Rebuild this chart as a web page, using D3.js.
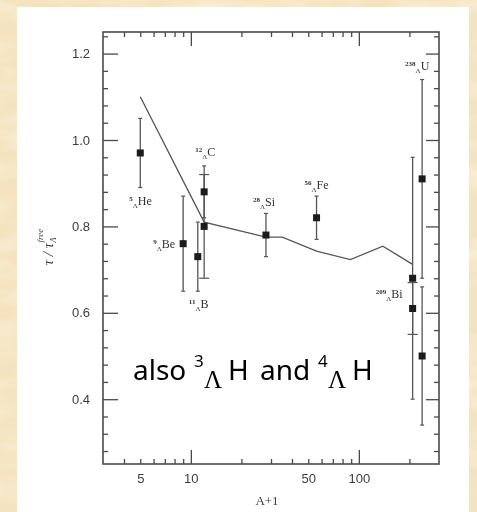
<!DOCTYPE html>
<html>
<head>
<meta charset="utf-8">
<script src="https://cdn.jsdelivr.net/npm/d3@7"></script>
<style>
  html, body { margin: 0; padding: 0; background: #f5e6c4; }
  svg { display: block; }
</style>
</head>
<body>
<svg id="chart" width="477" height="512"></svg>
<script>
// Hypernuclear lifetimes relative to the free Lambda lifetime
const massNumber = ["5", "9", "11", "12", "12", "28", "56", "209", "209", "238", "238"];
const element    = ["He", "Be", "B", "C", "C", "Si", "Fe", "Bi", "Bi", "U", "U"];
const xValue     = [5, 9, 11, 12, 12, 28, 56, 209, 209, 238, 238];
const ratio      = [0.97, 0.76, 0.73, 0.88, 0.80, 0.78, 0.82, 0.68, 0.61, 0.91, 0.50];
const errUp      = [0.08, 0.11, 0.08, 0.06, 0.12, 0.05, 0.05, 0.28, 0.06, 0.23, 0.16];
const errDown    = [0.08, 0.11, 0.08, 0.06, 0.12, 0.05, 0.05, 0.28, 0.06, 0.23, 0.16];
const wideCap    = [false, false, false, false, true, false, false, false, true, false, false];
const showLabel  = [true, true, true, true, false, true, true, true, false, true, false];

// Theoretical curve
const theoryX = [5, 12, 28, 35, 56, 89, 139, 209];
const theoryY = [1.10, 0.81, 0.775, 0.775, 0.743, 0.723, 0.754, 0.712];

// Axis ticks
const yMajorTicks = [0.4, 0.6, 0.8, 1.0, 1.2];
const yTickLabels = ["0.4", "0.6", "0.8", "1.0", "1.2"];
const yMinorTicks = [0.28, 0.32, 0.36, 0.44, 0.48, 0.52, 0.56, 0.64, 0.68, 0.72, 0.76,
                     0.84, 0.88, 0.92, 0.96, 1.04, 1.08, 1.12, 1.16, 1.24];
const xMajorTicks = [10, 100];
const xMinorTicks = [4, 5, 6, 7, 8, 9, 20, 30, 40, 50, 60, 70, 80, 90, 200];
const xLabelTicks = [5, 10, 50, 100];
const xTickLabels = ["5", "10", "50", "100"];

const svg = d3.select("#chart");
const defs = svg.append("defs");

// Parchment texture for the surrounding page
const paper = defs.append("filter").attr("id", "paper")
  .attr("x", 0).attr("y", 0).attr("width", "100%").attr("height", "100%");
paper.append("feTurbulence").attr("type", "fractalNoise")
  .attr("baseFrequency", "0.018 0.05").attr("numOctaves", 3).attr("seed", 7).attr("result", "n");
paper.append("feColorMatrix").attr("in", "n").attr("type", "matrix")
  .attr("values", "0 0 0 0 1  0 0 0 0 0.97  0 0 0 0 0.9  0 0 0 -0.9 0.55");
svg.append("rect").attr("width", 477).attr("height", 512).attr("fill", "#f4e3be");
svg.append("rect").attr("width", 477).attr("height", 512).attr("filter", "url(#paper)");

// White page panel
svg.append("rect").attr("x", 17).attr("y", 7).attr("width", 452).attr("height", 505)
  .attr("fill", "#ffffff");

defs.append("filter").attr("id", "soft")
  .append("feGaussianBlur").attr("stdDeviation", 0.45);

const plotL = 103, plotR = 439, plotT = 32, plotB = 464;
const x = d3.scaleLog().domain([3, 300]).range([plotL, plotR]);
const y = d3.scaleLinear().domain([0.25, 1.25]).range([plotB, plotT]);

const g = svg.append("g").attr("filter", "url(#soft)");

// Frame
g.append("rect").attr("x", plotL).attr("y", plotT)
  .attr("width", plotR - plotL).attr("height", plotB - plotT)
  .attr("fill", "none").attr("stroke", "#4a4a4a").attr("stroke-width", 1.6);

function styleAxis(sel) {
  sel.select(".domain").remove();
  sel.selectAll(".tick line").attr("stroke", "#4a4a4a").attr("stroke-width", 1.3);
  sel.selectAll(".tick text").attr("fill", "#3c3c3c")
    .attr("font-family", "Liberation Sans, Arial, sans-serif").attr("font-size", 13);
}

// Left axis
g.append("g").attr("transform", `translate(${plotL},0)`)
  .call(d3.axisLeft(y).tickValues(yMajorTicks).tickSize(-15).tickPadding(13)
    .tickFormat((d, i) => yTickLabels[i]))
  .call(styleAxis);
g.append("g").attr("transform", `translate(${plotL},0)`)
  .call(d3.axisLeft(y).tickValues(yMinorTicks).tickSize(-5).tickFormat(""))
  .call(styleAxis);
// Right axis
g.append("g").attr("transform", `translate(${plotR},0)`)
  .call(d3.axisRight(y).tickValues(yMajorTicks).tickSize(-13).tickFormat(""))
  .call(styleAxis);
g.append("g").attr("transform", `translate(${plotR},0)`)
  .call(d3.axisRight(y).tickValues(yMinorTicks).tickSize(-5).tickFormat(""))
  .call(styleAxis);
// Bottom axis
g.append("g").attr("transform", `translate(0,${plotB})`)
  .call(d3.axisBottom(x).tickValues(xMajorTicks).tickSize(-14).tickFormat(""))
  .call(styleAxis);
g.append("g").attr("transform", `translate(0,${plotB})`)
  .call(d3.axisBottom(x).tickValues(xMinorTicks).tickSize(-5).tickFormat(""))
  .call(styleAxis);
g.append("g").attr("transform", `translate(0,${plotB})`)
  .call(d3.axisBottom(x).tickValues(xLabelTicks).tickSize(0).tickPadding(10)
    .tickFormat((d, i) => xTickLabels[i]))
  .call(styleAxis);
// Top axis
g.append("g").attr("transform", `translate(0,${plotT})`)
  .call(d3.axisTop(x).tickValues(xMajorTicks).tickSize(-14).tickFormat(""))
  .call(styleAxis);
g.append("g").attr("transform", `translate(0,${plotT})`)
  .call(d3.axisTop(x).tickValues(xMinorTicks).tickSize(-5).tickFormat(""))
  .call(styleAxis);

// Axis titles
g.append("text").attr("x", (plotL + plotR) / 2 - 4).attr("y", 505)
  .attr("text-anchor", "middle").attr("fill", "#3c3c3c")
  .attr("font-family", "Liberation Serif, Times New Roman, serif").attr("font-size", 13)
  .text("A+1");

const yt = g.append("text").attr("transform", "translate(53,247) rotate(-90)")
  .attr("text-anchor", "middle").attr("fill", "#3c3c3c")
  .attr("font-family", "Liberation Serif, Times New Roman, serif").attr("font-size", 15)
  .attr("font-style", "italic");
yt.append("tspan").text("τ / τ");
yt.append("tspan").attr("font-size", 9).attr("dy", 3).text("Λ");
yt.append("tspan").attr("font-size", 9).attr("dy", -13).attr("dx", -5).text("free");

// Theory curve
g.append("path")
  .attr("d", d3.line().x((d, i) => x(theoryX[i])).y(d => y(d))(theoryY))
  .attr("fill", "none").attr("stroke", "#555").attr("stroke-width", 1.3);

// Error bars
const idx = d3.range(ratio.length);
idx.forEach(i => {
  const cx = x(xValue[i]);
  const hi = y(ratio[i] + errUp[i]), lo = y(ratio[i] - errDown[i]);
  const hw = wideCap[i] ? 5 : 2;
  g.append("line").attr("x1", cx).attr("x2", cx).attr("y1", hi).attr("y2", lo)
    .attr("stroke", "#555").attr("stroke-width", 1.3);
  [hi, lo].forEach(v => g.append("line").attr("x1", cx - hw).attr("x2", cx + hw)
    .attr("y1", v).attr("y2", v).attr("stroke", "#555").attr("stroke-width", 1.2));
});

// Data squares
g.selectAll("rect.pt").data(idx).join("rect").attr("class", "pt")
  .attr("x", i => x(xValue[i]) - 3.5).attr("y", i => y(ratio[i]) - 3.5)
  .attr("width", 7).attr("height", 7).attr("fill", "#1a1a1a");

// Nucleus labels: offsets from the point, text anchor
const labelOffset = [
  [-11, 52, "start"], [-8, 4, "end"], [-9, 51, "start"], [-9, -36, "start"], null,
  [-13, -29, "start"], [-12, -29, "start"], [-10, 20, "end"], null, [-17, -109, "start"], null
];
idx.forEach(i => {
  if (!showLabel[i]) return;
  const [dx, dy, anchor] = labelOffset[i];
  const t = g.append("text").attr("x", x(xValue[i]) + dx).attr("y", y(ratio[i]) + dy)
    .attr("text-anchor", anchor).attr("fill", "#333")
    .attr("font-family", "Liberation Serif, Times New Roman, serif");
  t.append("tspan").attr("font-size", 7).attr("font-weight", "bold").attr("dy", -4).text(massNumber[i]);
  t.append("tspan").attr("font-size", 7).attr("dy", 7).text("Λ");
  t.append("tspan").attr("font-size", 12).attr("dy", -3).text(element[i]);
});

// Annotation
const note = svg.append("text")
  .attr("font-family", "Noto Sans, Open Sans, sans-serif").attr("font-size", 28)
  .attr("fill", "#000");
note.append("tspan").attr("x", 133).attr("y", 380).text("also");
note.append("tspan").attr("x", 194).attr("y", 367).attr("font-size", 17).text("3");
note.append("tspan").attr("x", 204).attr("y", 388).attr("font-size", 25)
  .attr("font-family", "Liberation Serif, serif").text("Λ");
note.append("tspan").attr("x", 228).attr("y", 380).text("H");
note.append("tspan").attr("x", 260).attr("y", 380).text("and");
note.append("tspan").attr("x", 318).attr("y", 367).attr("font-size", 17).text("4");
note.append("tspan").attr("x", 328).attr("y", 388).attr("font-size", 25)
  .attr("font-family", "Liberation Serif, serif").text("Λ");
note.append("tspan").attr("x", 352).attr("y", 380).text("H");
</script>
</body>
</html>
